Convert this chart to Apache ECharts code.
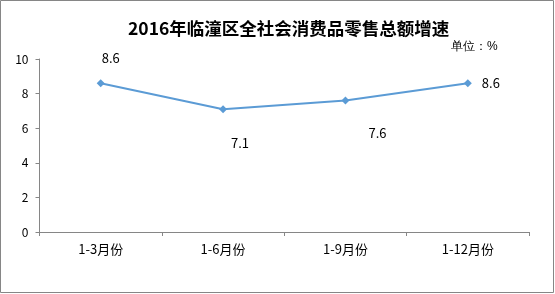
<!DOCTYPE html>
<html><head><meta charset="utf-8">
<script src="https://cdn.jsdelivr.net/npm/echarts@6/dist/echarts.min.js"></script>
<style>html,body{margin:0;padding:0;background:#fff}#c{width:555px;height:294px}</style>
</head><body><div id="c"></div>
<script>
const categories = ['1-3月份','1-6月份','1-9月份','1-12月份'];
const values = [8.6, 7.1, 7.6, 8.6];
const yTicks = [0, 2, 4, 6, 8, 10];
const titleText = '2016年临潼区全社会消费品零售总额增速';
const unitText = '单位：%';

const labelCfg = [
  {position:'top', offset:[10,-10]},
  {position:'bottom', offset:[17,18]},
  {position:'bottom', offset:[32,17]},
  {position:'right', offset:[5,0]}
];
const font = '"Microsoft YaHei","Noto Sans CJK SC",sans-serif';
const chart = echarts.init(document.getElementById('c'));
chart.setOption({
  animation:false,
  backgroundColor:'#fff',
  textStyle:{fontFamily:font},
  title:{text:titleText,left:123,top:15,textStyle:{fontSize:17.5,fontWeight:'bold',color:'#000',fontFamily:font}},
  graphic:[
    {type:'rect',shape:{x:0.5,y:0.5,width:553,height:292},style:{fill:null,stroke:'#868686',lineWidth:1},silent:true},
    {type:'text',left:451,top:41,style:{text:unitText,fontSize:12,fill:'#000',font:'12px '+font}}
  ],
  grid:{left:39.5,right:26,top:59,bottom:62,containLabel:false},
  xAxis:{type:'category',data:categories,boundaryGap:true,
    axisLine:{lineStyle:{color:'#868686',width:1}},
    axisTick:{show:true,length:4,inside:false,lineStyle:{color:'#868686'}},
    axisLabel:{color:'#000',fontSize:13,margin:11,fontFamily:font}},
  yAxis:{type:'value',min:yTicks[0],max:yTicks[yTicks.length-1],interval:2,
    axisLine:{show:true,lineStyle:{color:'#868686',width:1}},
    axisTick:{show:true,length:4,lineStyle:{color:'#868686'}},
    splitLine:{show:false},
    axisLabel:{color:'#000',fontSize:12,margin:11,fontFamily:font}},
  series:[{type:'line',data:values.map((v,i)=>({value:v,label:{show:true,position:labelCfg[i].position,offset:labelCfg[i].offset}})),
    symbol:'diamond',symbolSize:8,
    lineStyle:{color:'#5B9BD5',width:2},
    itemStyle:{color:'#5B9BD5'},
    label:{color:'#000',fontSize:13,fontFamily:font}}]
});
</script></body></html>
